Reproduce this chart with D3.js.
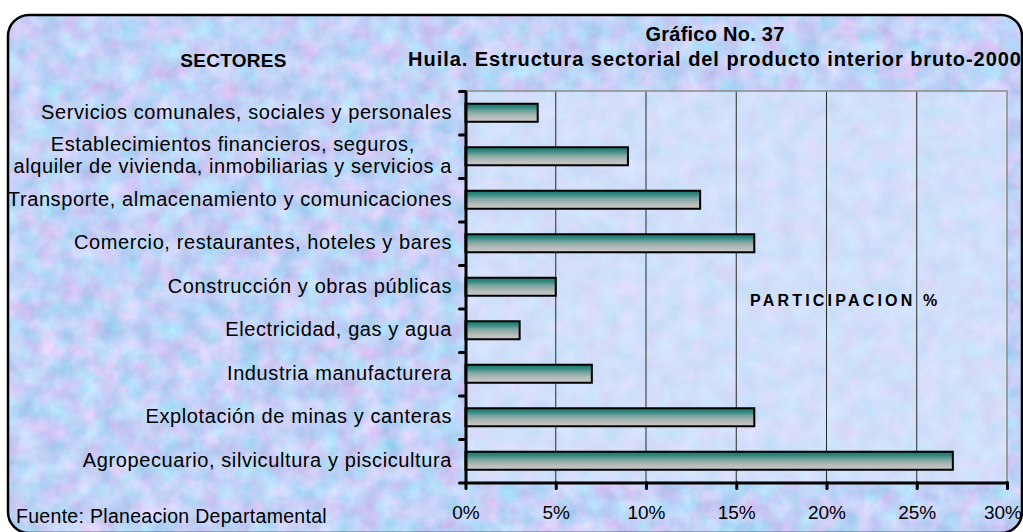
<!DOCTYPE html>
<html>
<head>
<meta charset="utf-8">
<script src="https://cdn.jsdelivr.net/npm/d3@7"></script>
<style>
  html, body { margin: 0; padding: 0; background: #ffffff; }
  svg { display: block; font-family: "Liberation Sans", Arial, sans-serif; }
</style>
</head>
<body>
<svg id="chart" width="1023" height="532"></svg>
<script>
// Sector names, top to bottom ("\n" marks a wrapped line)
const categories = [
  "Servicios comunales, sociales y personales",
  "Establecimientos financieros, seguros,\nalquiler de vivienda, inmobiliarias y servicios a",
  "Transporte, almacenamiento y comunicaciones",
  "Comercio, restaurantes, hoteles y bares",
  "Construcción y obras públicas",
  "Electricidad, gas y agua",
  "Industria manufacturera",
  "Explotación de minas y canteras",
  "Agropecuario, silvicultura y piscicultura"
];

// Share of the departmental GDP, in percent
const values = [4, 9, 13, 16, 5, 3, 7, 16, 27];

// Percent axis ticks
const xTicks = [0, 5, 10, 15, 20, 25, 30];

const titleLines = ["Gráfico No. 37", "Huila. Estructura sectorial del producto interior bruto-2000"];
const categoryHeader = "SECTORES";
const axisTitle = "PARTICIPACION %";
const sourceNote = "Fuente: Planeacion Departamental";

const W = 1023, H = 532;
const plot = { left: 465.5, right: 1007, top: 91, bottom: 482.5 };

const svg = d3.select("#chart");
const defs = svg.append("defs");

// Mottled blue/lavender stone texture
const stone = defs.append("filter")
  .attr("id", "stone")
  .attr("x", 0).attr("y", 0).attr("width", 1).attr("height", 1)
  .attr("color-interpolation-filters", "sRGB");
stone.append("feTurbulence")
  .attr("type", "fractalNoise")
  .attr("baseFrequency", 0.05)
  .attr("numOctaves", 4)
  .attr("seed", 11)
  .attr("result", "noise");
stone.append("feColorMatrix")
  .attr("in", "noise")
  .attr("type", "matrix")
  .attr("values",
    "0.3 0.2 0 0 0.51 " +
    "-0.12 0.2 0 0 0.785 " +
    "0 0.12 0 0 0.91 " +
    "0 0 0 0 1")
  .attr("result", "tint");
stone.append("feComposite")
  .attr("in", "tint")
  .attr("in2", "SourceAlpha")
  .attr("operator", "in");

// Bar shading: teal on top fading into grey
const grad = defs.append("linearGradient")
  .attr("id", "barFill")
  .attr("x1", 0).attr("y1", 0).attr("x2", 0).attr("y2", 1);
[
  [0, "#1d756b"],
  [0.2, "#2f877d"],
  [0.45, "#80a8a3"],
  [0.72, "#b4bab9"],
  [1, "#cacaca"]
].forEach(([o, c]) => grad.append("stop").attr("offset", o).attr("stop-color", c));

// Background panel
svg.append("rect")
  .attr("x", 8).attr("y", 15)
  .attr("width", 1014).attr("height", 518)
  .attr("rx", 21).attr("ry", 21)
  .attr("fill", "#c8d8f2")
  .attr("filter", "url(#stone)");

// Scales
const x = d3.scaleLinear().domain([0, 30]).range([plot.left, plot.right]);
const y = d3.scaleBand()
  .domain(d3.range(categories.length))
  .range([plot.top, plot.bottom])
  .paddingInner(0.586)
  .paddingOuter(0.293);
const yEdge = d3.scaleLinear().domain([0, categories.length]).range([plot.top, plot.bottom]);

// Plot area wash
svg.append("rect")
  .attr("x", plot.left).attr("y", plot.top)
  .attr("width", plot.right - plot.left).attr("height", plot.bottom - plot.top)
  .attr("fill", "#dce8fb")
  .attr("opacity", 0.6);

// Vertical gridlines
svg.append("g")
  .selectAll("line")
  .data(xTicks.filter(t => t > 0 && t < 30))
  .join("line")
  .attr("x1", d => x(d)).attr("x2", d => x(d))
  .attr("y1", plot.top).attr("y2", plot.bottom)
  .attr("stroke", "#2a2a2a")
  .attr("stroke-width", 1);

// Plot frame (top and right)
svg.append("path")
  .attr("d", `M${plot.left},${plot.top}H${x(30)}V${plot.bottom}`)
  .attr("fill", "none")
  .attr("stroke", "#8a8a8a")
  .attr("stroke-width", 1.5);

// Bars
svg.append("g")
  .selectAll("rect")
  .data(values)
  .join("rect")
  .attr("x", x(0))
  .attr("y", (d, i) => y(i))
  .attr("width", d => x(d) - x(0))
  .attr("height", y.bandwidth())
  .attr("fill", "url(#barFill)")
  .attr("stroke", "#000")
  .attr("stroke-width", 2);

// X axis
const xAxis = svg.append("g")
  .attr("transform", `translate(0,${plot.bottom})`)
  .call(d3.axisBottom(x).tickValues(xTicks).tickFormat(d => d + "%").tickSizeInner(6).tickSizeOuter(0).tickPadding(17));
xAxis.select(".domain").attr("stroke", "#000").attr("stroke-width", 3);
xAxis.selectAll(".tick line").attr("stroke", "#000").attr("stroke-width", 3).attr("stroke-linecap", "round");
xAxis.selectAll(".tick text")
  .attr("font-family", "'Liberation Sans', Arial, sans-serif")
  .attr("font-size", 19)
  .attr("fill", "#000")
  .each(function () {
    // keep the last label inside the panel edge
    const b = this.getBBox();
    const tx = this.parentNode.transform.baseVal.consolidate().matrix.e;
    const over = tx + b.x + b.width - (W - 1);
    if (over > 0) d3.select(this).attr("dx", -over);
  });

// Y axis with ticks between sectors
const yAxis = svg.append("g")
  .attr("transform", `translate(${plot.left},0)`)
  .call(d3.axisLeft(yEdge).tickValues(d3.range(categories.length + 1)).tickFormat("").tickSizeInner(6).tickSizeOuter(0));
yAxis.select(".domain").attr("stroke", "#000").attr("stroke-width", 3);
yAxis.selectAll(".tick line").attr("stroke", "#000").attr("stroke-width", 3).attr("stroke-linecap", "round");

// Sector labels: right-aligned blocks, wrapped lines centred within the block
const labelRight = 452;
const lineGap = 22;
const labelG = svg.append("g")
  .attr("font-size", 20)
  .attr("letter-spacing", 0.6)
  .attr("fill", "#000");
categories.forEach((name, i) => {
  const lines = name.split("\n");
  const cy = y(i) + y.bandwidth() / 2;
  const t = labelG.append("text").attr("text-anchor", "middle");
  const spans = lines.map((ln, k) => t.append("tspan")
    .attr("y", cy + 5.8 + (k - (lines.length - 1) / 2) * lineGap)
    .text(ln));
  const maxW = d3.max(spans, s => s.node().getComputedTextLength());
  spans.forEach(s => s.attr("x", labelRight - maxW / 2));
});

// Titles
svg.append("text")
  .attr("x", 715).attr("y", 41)
  .attr("text-anchor", "middle")
  .attr("font-size", 20).attr("font-weight", "bold")
  .attr("letter-spacing", 0.25)
  .text(titleLines[0]);
svg.append("text")
  .attr("x", 715).attr("y", 66)
  .attr("text-anchor", "middle")
  .attr("font-size", 20).attr("font-weight", "bold")
  .attr("letter-spacing", 0.95)
  .text(titleLines[1]);
svg.append("text")
  .attr("x", 233.5).attr("y", 67)
  .attr("text-anchor", "middle")
  .attr("font-size", 19).attr("font-weight", "bold")
  .attr("letter-spacing", 0.3)
  .text(categoryHeader);

// Axis title inside the plot
svg.append("text")
  .attr("x", 750).attr("y", 306)
  .attr("font-size", 16).attr("font-weight", "bold")
  .attr("letter-spacing", 3.2)
  .text(axisTitle);

// Source note
svg.append("text")
  .attr("x", 16).attr("y", 523)
  .attr("font-size", 19.5)
  .attr("letter-spacing", 0.3)
  .text(sourceNote);

// Panel outline on top
svg.append("rect")
  .attr("x", 8).attr("y", 15)
  .attr("width", 1014).attr("height", 518)
  .attr("rx", 21).attr("ry", 21)
  .attr("fill", "none")
  .attr("stroke", "#000")
  .attr("stroke-width", 2.5);
</script>
</body>
</html>
